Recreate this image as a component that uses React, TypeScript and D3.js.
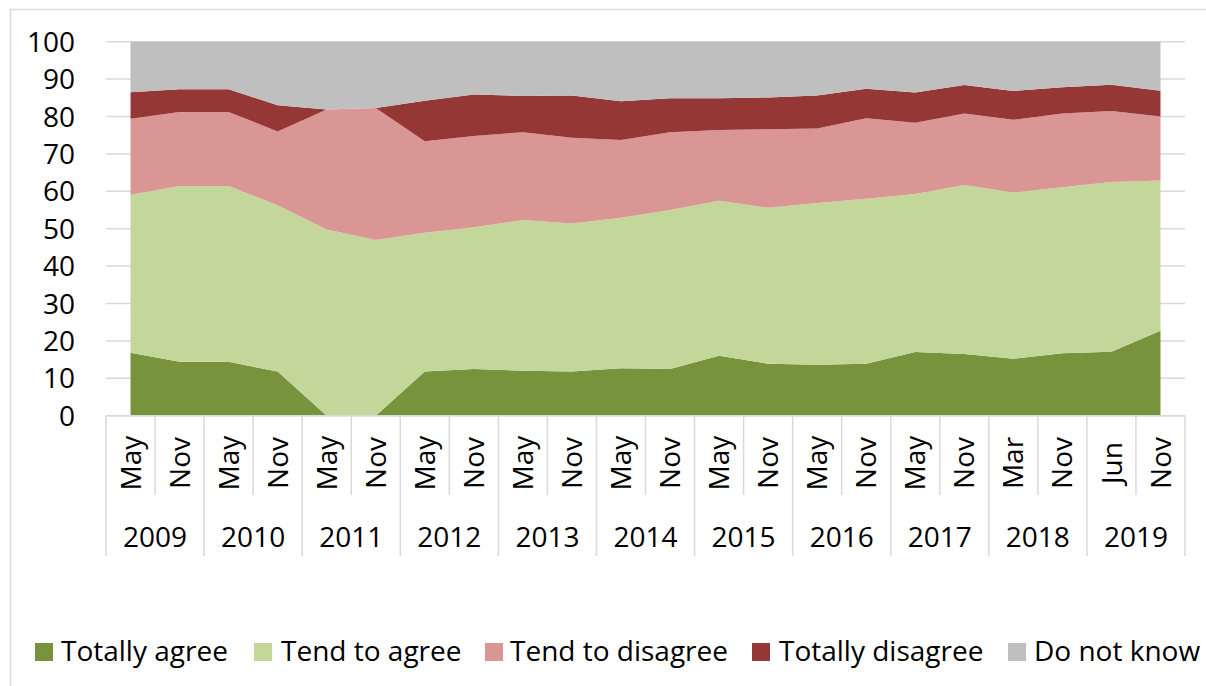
import React from "react";
import * as d3 from "d3";

const years = ["2009", "2010", "2011", "2012", "2013", "2014", "2015", "2016", "2017", "2018", "2019"];
const months = [
  "May", "Nov", "May", "Nov", "May", "Nov", "May", "Nov", "May", "Nov", "May",
  "Nov", "May", "Nov", "May", "Nov", "May", "Nov", "Mar", "Nov", "Jun", "Nov",
];
const yearOfPoint = [
  "2009", "2009", "2010", "2010", "2011", "2011", "2012", "2012", "2013", "2013", "2014",
  "2014", "2015", "2015", "2016", "2016", "2017", "2017", "2018", "2018", "2019", "2019",
];

const totallyAgree = [16.8, 14.4, 14.4, 11.8, 0, 0, 11.8, 12.5, 12.0, 11.8, 12.7, 12.5, 16.0, 13.9, 13.6, 13.9, 17.0, 16.5, 15.2, 16.7, 17.1, 22.7];
const tendToAgree = [42.3, 47.0, 47.0, 44.5, 49.8, 47.0, 37.1, 37.9, 40.3, 39.6, 40.2, 42.5, 41.5, 41.7, 43.3, 44.1, 42.3, 45.2, 44.5, 44.4, 45.4, 40.2];
const tendToDisagree = [20.3, 19.8, 19.8, 19.7, 32.1, 35.3, 24.5, 24.4, 23.5, 22.9, 20.8, 20.8, 18.9, 21.0, 19.9, 21.5, 19.0, 19.1, 19.4, 19.7, 19.0, 17.1];
const totallyDisagree = [7.1, 6.1, 6.1, 7.0, 0, 0, 10.8, 11.1, 9.7, 11.3, 10.4, 9.1, 8.5, 8.5, 8.8, 7.9, 8.1, 7.6, 7.7, 7.0, 7.0, 6.9];
const doNotKnow = [13.5, 12.7, 12.7, 17.0, 18.1, 17.7, 15.8, 14.1, 14.5, 14.4, 15.9, 15.1, 15.1, 14.9, 14.4, 12.6, 13.6, 11.6, 13.2, 12.2, 11.5, 13.1];

const seriesNames = ["Totally agree", "Tend to agree", "Tend to disagree", "Totally disagree", "Do not know"];
const seriesColors = ["#77933C", "#C4D79B", "#D99694", "#953735", "#BFBFBF"];
const yTicks = [0, 10, 20, 30, 40, 50, 60, 70, 80, 90, 100];

const FONT = "'Open Sans', sans-serif";

export default function App() {
  const W = 1206;
  const H = 686;
  const left = 106;
  const right = 1185;
  const top = 41.7;
  const bottom = 415.7;

  const keys = months.map((_, i) => i);
  const x = d3.scaleBand<number>().domain(keys).range([left, right]);
  const y = d3.scaleLinear().domain([0, 100]).range([bottom, top]);

  const rows = keys.map((i) => ({
    i,
    s0: totallyAgree[i],
    s1: tendToAgree[i],
    s2: tendToDisagree[i],
    s3: totallyDisagree[i],
    s4: doNotKnow[i],
  }));
  const stacked = d3.stack<any>().keys(["s0", "s1", "s2", "s3", "s4"])(rows);
  const cx = (i: number) => (x(i) as number) + x.bandwidth() / 2;
  const area = d3
    .area<any>()
    .x((d) => cx(d.data.i))
    .y0((d) => y(d[0]))
    .y1((d) => y(Math.min(100, d[1])));

  const bw = x.bandwidth();
  // boundaries
  const boundaries = d3.range(months.length + 1).map((k) => {
    const isYear = k === 0 || k === months.length || yearOfPoint[k] !== yearOfPoint[k - 1];
    return { xx: left + k * bw, isYear };
  });

  const legendItems = [
    { sx: 35, tx: 61 },
    { sx: 254, tx: 281 },
    { sx: 485, tx: 510 },
    { sx: 752, tx: 779 },
    { sx: 1008, tx: 1034 },
  ];

  return (
    <svg
      width={W}
      height={H}
      style={{ position: "fixed", left: 0, top: 0, background: "#fff" }}
      fontFamily={FONT}
    >
      <rect x={0} y={0} width={W} height={H} fill="#fff" />
      <rect x={10.5} y={9.5} width={1210} height={700} fill="none" stroke="#d9d9d9" strokeWidth={1.5} />
      {yTicks.map((t) => (
        <g key={t}>
          <line x1={left} x2={right} y1={y(t)} y2={y(t)} stroke="#d9d9d9" strokeWidth={1.5} />
          <text x={75} y={y(t)} dy="0.36em" textAnchor="end" fontSize={28} fill="#000">
            {t}
          </text>
        </g>
      ))}
      {stacked.map((s, k) => (
        <path key={k} d={area(s as any) || ""} fill={seriesColors[k]} />
      ))}
      <line x1={left} x2={right} y1={bottom} y2={bottom} stroke="#d9d9d9" strokeWidth={1.5} />
      {boundaries.map((b, k) => (
        <line
          key={k}
          x1={b.xx}
          x2={b.xx}
          y1={bottom}
          y2={b.isYear ? 556 : 495}
          stroke="#d9d9d9"
          strokeWidth={1.5}
        />
      ))}
      {months.map((m, i) => (
        <text
          key={i}
          transform={`translate(${cx(i)},463) rotate(-90)`}
          textAnchor="middle"
          dy="0.36em"
          fontSize={28}
          fill="#000"
        >
          {m}
        </text>
      ))}
      {years.map((yr) => {
        const idx = keys.filter((i) => yearOfPoint[i] === yr);
        const x0 = x(idx[0]) as number;
        const x1 = (x(idx[idx.length - 1]) as number) + bw;
        return (
          <text key={yr} x={(x0 + x1) / 2} y={547} textAnchor="middle" fontSize={28} fill="#000">
            {yr}
          </text>
        );
      })}
      {seriesNames.map((n, k) => (
        <g key={n}>
          <rect x={legendItems[k].sx} y={643} width={18} height={18} fill={seriesColors[k]} />
          <text x={legendItems[k].tx} y={661} fontSize={28} fill="#000">
            {n}
          </text>
        </g>
      ))}
    </svg>
  );
}
